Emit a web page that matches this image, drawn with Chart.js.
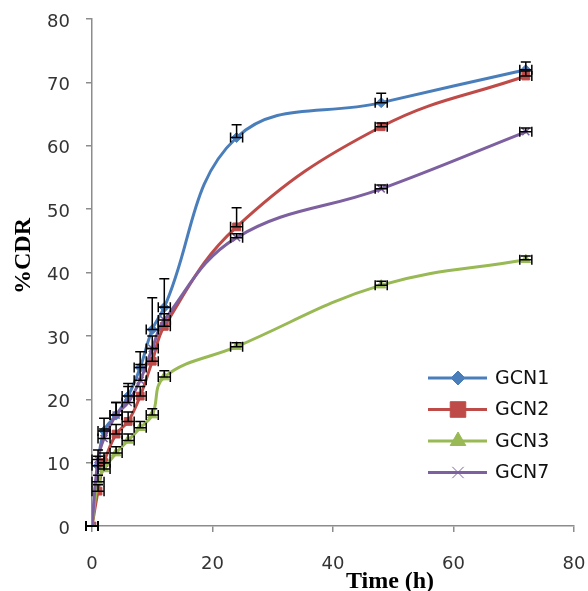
<!DOCTYPE html>
<html>
<head>
<meta charset="utf-8">
<script src="https://cdn.jsdelivr.net/npm/chart.js@4/dist/chart.umd.min.js"></script>
<style>
  html, body { margin: 0; padding: 0; background: #fff; }
  #cdr { display: block; }
</style>
</head>
<body>
<canvas id="cdr" width="588" height="591"></canvas>
<script>
// sampling times (h)
var hours = [0, 1, 2, 4, 6, 8, 10, 12, 24, 48, 72];

// cumulative drug release (%) per formulation
var gcn1 = [0, 9.5, 15, 17.5, 20.5, 25, 31, 34.5, 61.3, 66.8, 72];
var gcn2 = [0, 5.5, 10, 14.5, 16.5, 20.5, 26, 31.5, 47.2, 63, 71];
var gcn3 = [0, 7, 9, 11.5, 13.5, 15.5, 17.5, 23.5, 28.3, 38, 42];
var gcn7 = [0, 10.5, 13.8, 17.5, 19.5, 23, 28, 32.5, 45.5, 53.2, 62.2];

// standard deviations (drawn upward only)
var gcn1Sd = [0, 1.5, 2, 2, 2, 2.5, 5, 4.5, 2, 1.5, 1.2];
var gcn2Sd = [0, 1, 1.5, 1.5, 1.5, 1.5, 2, 2, 3, 0.6, 0.8];
var gcn3Sd = [0, 1, 1, 1, 1, 1, 1, 1, 0.6, 0.6, 0.6];
var gcn7Sd = [0, 1.5, 1.5, 2, 2.5, 2.5, 2, 2, 0.6, 0.6, 0.6];

// horizontal error on time (h)
var timeErr = 1;

var yTicks = [0, 10, 20, 30, 40, 50, 60, 70, 80];
var xTicks = [0, 20, 40, 60, 80];

function pts(vals) {
	return hours.map(function (h, i) { return { x: h, y: vals[i] }; });
}

// r = marker on the curve, lr = marker in the legend
var series = [
	{ label: 'GCN1', data: gcn1, sd: gcn1Sd, color: '#4A7EBB', style: 'rectRot', r: 5, lr: 7, order: 4 },
	{ label: 'GCN2', data: gcn2, sd: gcn2Sd, color: '#BE4B48', style: 'rect', r: 5.5, lr: 11, order: 3 },
	{ label: 'GCN3', data: gcn3, sd: gcn3Sd, color: '#98B954', style: 'triangle', r: 5.5, lr: 9, order: 2 },
	{ label: 'GCN7', data: gcn7, sd: gcn7Sd, color: '#7D60A0', style: 'crossRot', r: 5, lr: 8, order: 1 }
];

// black error bars: +SD upward, +/- timeErr sideways
var errorBars = {
	id: 'errorBars',
	afterDatasetsDraw: function (chart) {
		var ctx = chart.ctx, xs = chart.scales.x, ys = chart.scales.y;
		ctx.save();
		ctx.strokeStyle = '#000';
		ctx.lineWidth = 1.5;
		series.forEach(function (s) {
			hours.forEach(function (h, i) {
				var px = xs.getPixelForValue(h);
				var py = ys.getPixelForValue(s.data[i]);
				var top = ys.getPixelForValue(s.data[i] + s.sd[i]);
				var l = xs.getPixelForValue(h - timeErr);
				var r = xs.getPixelForValue(h + timeErr);
				ctx.beginPath();
				if (s.sd[i] > 0) {
					ctx.moveTo(px, top); ctx.lineTo(px, py);
					ctx.moveTo(px - 5, top); ctx.lineTo(px + 5, top);
				}
				ctx.moveTo(l, py); ctx.lineTo(r, py);
				ctx.moveTo(l, py - 5); ctx.lineTo(l, py + 5);
				ctx.moveTo(r, py - 5); ctx.lineTo(r, py + 5);
				ctx.stroke();
			});
		});
		ctx.restore();
	}
};

// legend box inside the plot and the axis titles
var decorations = {
	id: 'decorations',
	afterDraw: function (chart) {
		var ctx = chart.ctx;
		ctx.save();
		series.forEach(function (s, i) {
			var y = 378 + i * 31.5;
			ctx.strokeStyle = s.color;
			ctx.lineWidth = 3;
			ctx.beginPath();
			ctx.moveTo(428, y);
			ctx.lineTo(487, y);
			ctx.stroke();
			ctx.fillStyle = s.color;
			ctx.strokeStyle = s.color;
			ctx.lineWidth = 1;
			Chart.helpers.drawPoint(ctx, { pointStyle: s.style, radius: s.lr, rotation: 0, borderWidth: 1 }, 458, y);
			ctx.fillStyle = '#111';
			ctx.font = '19px "DejaVu Sans"';
			ctx.textAlign = 'left';
			ctx.textBaseline = 'middle';
			ctx.fillText(s.label, 495, y + 1);
		});

		ctx.fillStyle = '#000';
		ctx.font = 'bold 24px "Liberation Serif"';
		ctx.textAlign = 'center';
		ctx.textBaseline = 'middle';
		ctx.fillText('Time (h)', 390, 582);
		ctx.translate(24, 256);
		ctx.rotate(-Math.PI / 2);
		ctx.fillText('%CDR', 0, 0);
		ctx.restore();
	}
};

var ctx = document.getElementById('cdr').getContext('2d');
var chart = new Chart(ctx, {
	type: 'line',
	data: {
		datasets: series.map(function (s) {
			return {
				label: s.label,
				data: pts(s.data),
				order: s.order,
				borderColor: s.color,
				backgroundColor: s.color,
				borderWidth: 3,
				tension: 0.4,
				pointStyle: s.style,
				pointRadius: s.r,
				pointBorderWidth: s.style === 'crossRot' ? 1.5 : 1,
				pointBackgroundColor: s.color,
				pointBorderColor: s.color
			};
		})
	},
	options: {
		responsive: false,
		animation: false,
		layout: { padding: { top: 19, right: 14, left: 0, bottom: 0 } },
		plugins: {
			legend: { display: false },
			tooltip: { enabled: false }
		},
		scales: {
			x: {
				type: 'linear',
				min: 0,
				max: 80,
				afterFit: function (scale) {
					scale.height = 65;
					scale.paddingLeft = 0;
					scale.paddingRight = 0;
				},
				afterBuildTicks: function (scale) {
					scale.ticks = xTicks.map(function (v) { return { value: v }; });
				},
				grid: { drawOnChartArea: false, color: '#8c8c8c', tickLength: 6, lineWidth: 1.5 },
				border: { color: '#8c8c8c', width: 1.5 },
				ticks: { color: '#333', font: { family: 'DejaVu Sans', size: 18 }, padding: 22, maxRotation: 0 }
			},
			y: {
				min: 0,
				max: 80,
				afterFit: function (scale) {
					scale.width = 92;
					scale.paddingTop = 0;
					scale.paddingBottom = 0;
				},
				afterBuildTicks: function (scale) {
					scale.ticks = yTicks.map(function (v) { return { value: v }; });
				},
				grid: { drawOnChartArea: false, color: '#8c8c8c', tickLength: 6, lineWidth: 1.5 },
				border: { color: '#8c8c8c', width: 1.5 },
				ticks: { color: '#333', font: { family: 'DejaVu Sans', size: 18 }, padding: 16, labelOffset: 3 }
			}
		}
	},
	plugins: [errorBars, decorations]
});
</script>
</body>
</html>
